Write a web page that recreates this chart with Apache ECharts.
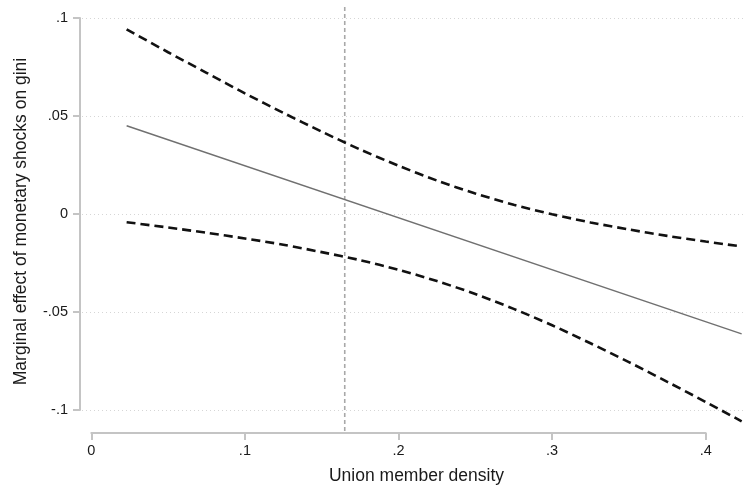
<!DOCTYPE html>
<html>
<head>
<meta charset="utf-8">
<script src="https://cdn.jsdelivr.net/npm/echarts@6/dist/echarts.min.js"></script>
<style>
html,body{margin:0;padding:0;background:#fff;}
#chart{width:747px;height:489px;}
</style>
</head>
<body>
<div id="chart"></div>
<script>
// Data
var xVals   = [0.023, 0.05, 0.075, 0.1, 0.125, 0.15, 0.175, 0.2, 0.225, 0.25, 0.275, 0.3, 0.325, 0.35, 0.375, 0.4, 0.4234];
var upperCI = [0.0944, 0.0827, 0.0722, 0.0617, 0.0517, 0.0421, 0.0330, 0.0247, 0.0171, 0.0105, 0.0047, -0.0001, -0.0043, -0.0079, -0.0112, -0.0141, -0.0166];
var lowerCI = [-0.0042, -0.0069, -0.0096, -0.0125, -0.0157, -0.0195, -0.0236, -0.0285, -0.0343, -0.0409, -0.0485, -0.0569, -0.0661, -0.0757, -0.0858, -0.0961, -0.1060];
var effectX = [0.023, 0.4234];
var effectY = [0.0451, -0.0613];
var refLineX = [0.165, 0.165];
var refLineY = [0.1058, -0.112];
var xTicks = [0, 0.1, 0.2, 0.3, 0.4];
var yTicks = [-0.1, -0.05, 0, 0.05, 0.1];
var xTitle = 'Union member density';
var yTitle = 'Marginal effect of monetary shocks on gini';

function pairs(xs, ys){ return xs.map(function(x,i){ return [x, ys[i]]; }); }
function fmt(v){
  if (Math.abs(v) < 1e-9) return '0';
  var s = String(Math.round(v*1000)/1000);
  return s.replace('0.', '.');
}

var FONT = "'Liberation Sans', Arial, sans-serif";
var AXC = '#c4c4c4';
var TXT = '#1a1a1a';
// pixel scale of the plot: 1536 px per x unit, 1956 px per y unit
var PX_X = 1536, PX_Y = 1956;
var plotL = 82, plotR = 745, plotT = 7, plotB = 433;
var x0px = 91.3, y0px = 214;
var dataXMin = (plotL - x0px) / PX_X, dataXMax = (plotR - x0px) / PX_X;
var dataYMax = (y0px - plotT) / PX_Y, dataYMin = (y0px - plotB) / PX_Y;

var chart = echarts.init(document.getElementById('chart'), null, {renderer:'canvas'});
chart.setOption({
  animation: false,
  backgroundColor: '#fff',
  grid: [
    {left: 91.3, right: 41.3, top: 18, bottom: 79},
    {left: plotL, right: 747 - plotR, top: 18, bottom: 79},
    {left: plotL, right: 747 - plotR, top: plotT, bottom: 489 - plotB}
  ],
  xAxis: [
    {type:'value', gridIndex:0, min: xTicks[0], max: xTicks[xTicks.length-1], interval: 0.1,
     offset: 23,
     axisLine:{show:true, onZero:false, lineStyle:{color:AXC, width:2}},
     axisTick:{show:true, length:7, lineStyle:{color:AXC, width:2}},
     axisLabel:{margin:10, color:TXT, fontSize:14.5, fontFamily:FONT, formatter: fmt},
     splitLine:{show:false}},
    {type:'value', gridIndex:1, min:0, max:1, show:false},
    {type:'value', gridIndex:2, min:dataXMin, max:dataXMax, show:false}
  ],
  yAxis: [
    {type:'value', gridIndex:0, min: yTicks[0], max: yTicks[yTicks.length-1], interval: 0.05,
     offset: 11.3,
     axisLine:{show:true, onZero:false, lineStyle:{color:AXC, width:2}},
     axisTick:{show:true, length:7, lineStyle:{color:AXC, width:2}},
     axisLabel:{margin:12, color:TXT, fontSize:14.5, fontFamily:FONT, formatter: fmt},
     splitLine:{show:false}},
    {type:'value', gridIndex:1, min: yTicks[0], max: yTicks[yTicks.length-1], interval: 0.05,
     axisLine:{show:false}, axisTick:{show:false}, axisLabel:{show:false},
     splitLine:{show:true, lineStyle:{color:'#d6d6d6', width:1, type:[1,3]}}},
    {type:'value', gridIndex:2, min:dataYMin, max:dataYMax, show:false}
  ],
  graphic: [
    {type:'text', z: 10, x: 416.5, y: 476,
     style:{text: xTitle, textAlign:'center', textVerticalAlign:'middle',
            fill:TXT, font: '17.5px ' + FONT}},
    {type:'text', z: 10, x: 21, y: 221.5, rotation: Math.PI/2,
     style:{text: yTitle, textAlign:'center', textVerticalAlign:'middle',
            fill:TXT, font: '17.5px ' + FONT}}
  ],
  series: [
    {type:'line', xAxisIndex:2, yAxisIndex:2, data: pairs(refLineX, refLineY), symbol:'none', clip:false,
     lineStyle:{color:'#a8a8a8', width:1.6, type:[4,3]}, z: 1},
    {type:'line', xAxisIndex:2, yAxisIndex:2, data: pairs(effectX, effectY), symbol:'none', clip:false,
     lineStyle:{color:'#707070', width:1.4}, z: 2},
    {type:'line', xAxisIndex:2, yAxisIndex:2, data: pairs(xVals, upperCI), symbol:'none', clip:false, smooth:0.3,
     lineStyle:{color:'#111', width:2.6, type:[9,5]}, z: 3},
    {type:'line', xAxisIndex:2, yAxisIndex:2, data: pairs(xVals, lowerCI), symbol:'none', clip:false, smooth:0.3,
     lineStyle:{color:'#111', width:2.6, type:[9,5]}, z: 3}
  ]
});
</script>
</body>
</html>
